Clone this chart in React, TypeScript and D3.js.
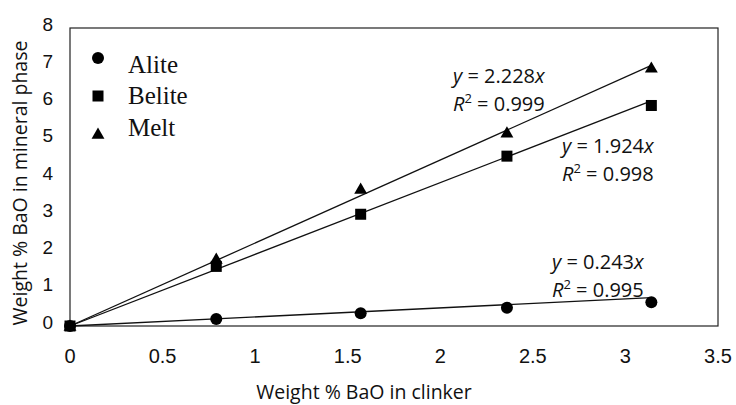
import React from "react";
import * as d3 from "d3";

const xValues = [0, 0.79, 1.57, 2.36, 3.14];
const aliteValues = [0, 0.19, 0.34, 0.49, 0.64];
const beliteValues = [0, 1.6, 3.0, 4.56, 5.92];
const meltValues = [0, 1.8, 3.68, 5.19, 6.93];
const slopes = { Alite: 0.243, Belite: 1.924, Melt: 2.228 };
const r2 = { Alite: "0.995", Belite: "0.998", Melt: "0.999" };
const xTicks = [0, 0.5, 1, 1.5, 2, 2.5, 3, 3.5];
const yTicks = [0, 1, 2, 3, 4, 5, 6, 7, 8];
const seriesNames = ["Alite", "Belite", "Melt"];

const W = 736, H = 405;
const L = 70, R = 718, T = 28, B = 326;

const sans = "'Open Sans', 'Noto Sans', sans-serif";
const arial = "'Liberation Sans', Arial, sans-serif";
const serif = "'Liberation Serif', 'Times New Roman', serif";

function Marker({ kind, x, y }: { kind: string; x: number; y: number }) {
  if (kind === "Alite") return <circle cx={x} cy={y} r={6} fill="#000" />;
  if (kind === "Belite") return <rect x={x - 5.5} y={y - 5.5} width={11} height={11} fill="#000" />;
  const tri = d3.symbol().type(d3.symbolTriangle).size(72)();
  return <path d={tri || ""} transform={`translate(${x},${y + 1})`} fill="#000" />;
}

export default function App() {
  const x = d3.scaleLinear().domain([0, 3.5]).range([L, R]);
  const y = d3.scaleLinear().domain([0, 8]).range([B, T]);
  const data: Record<string, number[]> = { Alite: aliteValues, Belite: beliteValues, Melt: meltValues };
  const xEnd = xValues[xValues.length - 1];

  const annot: Record<string, { x: number; y: number }> = {
    Melt: { x: 453, y: 83 },
    Belite: { x: 562, y: 153 },
    Alite: { x: 552, y: 269 },
  };

  return (
    <svg width={W} height={H} style={{ position: "absolute", left: 0, top: 0, background: "#fff" }}>
      {/* frame */}
      <rect x={L} y={T} width={R - L} height={B - T} fill="none" stroke="#222" strokeWidth={1.2} />

      {/* trend lines */}
      {seriesNames.map((s) => {
        const k = (slopes as any)[s];
        const lg = d3
          .line<number>()
          .x((d) => x(d))
          .y((d) => y(k * d));
        return <path key={s} d={lg([0, xEnd]) || ""} stroke="#111" strokeWidth={1.3} fill="none" />;
      })}

      {/* markers */}
      {seriesNames.map((s) =>
        xValues.map((xv, i) => <Marker key={s + i} kind={s} x={x(xv)} y={y(data[s][i])} />)
      )}

      {/* y ticks */}
      {yTicks.map((t) => (
        <text key={"y" + t} x={53} y={y(t) - 4} fontFamily={arial} fontSize={19} textAnchor="end" dominantBaseline="central" fill="#111">
          {t}
        </text>
      ))}
      {/* x ticks */}
      {xTicks.map((t) => (
        <text key={"x" + t} x={x(t)} y={363} fontFamily={arial} fontSize={20} textAnchor="middle" fill="#111">
          {t}
        </text>
      ))}

      {/* axis titles */}
      <text x={364} y={399} fontFamily={sans} fontSize={19.5} textAnchor="middle" fill="#111">
        Weight % BaO in clinker
      </text>
      <text transform={`translate(27,183) rotate(-90)`} fontFamily={sans} fontSize={19.5} textAnchor="middle" fill="#111">
        Weight % BaO in mineral phase
      </text>

      {/* legend */}
      {seriesNames.map((s, i) => (
        <g key={"lg" + s}>
          <Marker kind={s} x={98} y={[58, 96, 134][i]} />
          <text x={128} y={[73, 104, 136][i]} fontFamily={serif} fontSize={25} fill="#111">
            {s}
          </text>
        </g>
      ))}

      {/* annotations */}
      {seriesNames.map((s) => {
        const a = annot[s];
        return (
          <g key={"an" + s} fontFamily={sans} fontSize={20} fill="#111">
            <text x={a.x} y={a.y}>
              <tspan fontStyle="italic">y</tspan> = {(slopes as any)[s].toFixed(3)}
              <tspan fontStyle="italic">x</tspan>
            </text>
            <text x={a.x} y={a.y + 28}>
              <tspan fontStyle="italic">R</tspan>
              <tspan fontSize={13} dy={-8}>2</tspan>
              <tspan dy={8}> = {(r2 as any)[s]}</tspan>
            </text>
          </g>
        );
      })}
    </svg>
  );
}
